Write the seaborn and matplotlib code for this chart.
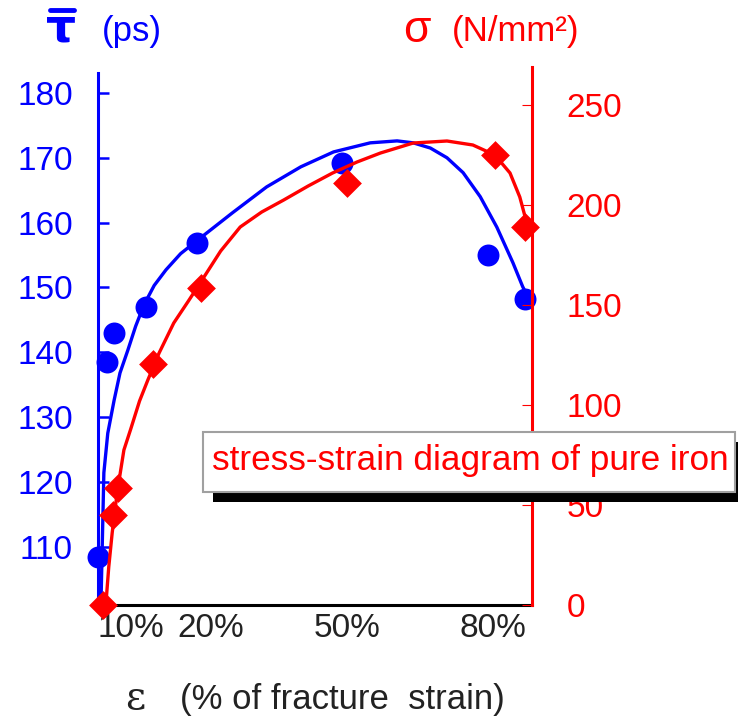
import matplotlib
matplotlib.use("Agg")
import matplotlib.pyplot as plt
import matplotlib.transforms as mtransforms
from matplotlib.patches import Rectangle
from matplotlib.lines import Line2D
import seaborn as sns

# measured points (strain in % of fracture strain)
strain_tau = [0, 1.8, 3.3, 9.8, 20.2, 50, 79.8, 87.3]
tau = [108.4, 138.5, 143.0, 147.0, 156.9, 169.2, 155.0, 148.2]

strain_sigma = [1.0, 3.1, 4.1, 11.2, 21.0, 51.0, 81.2, 87.3]
sigma = [0, 45, 58.5, 120.5, 158.5, 211, 225, 189]

# fitted curves
fit_tau_x = [0.6, 1.2, 2.0, 3.3, 4.5, 6.1, 7.7, 9.4, 11.5, 13.9, 16.9, 20.4, 27.5,
             34.5, 41.5, 48.2, 55.7, 61.2, 64.5, 68.0, 71.4, 74.7, 78.2, 81.6,
             84.9, 86.9, 87.8]
fit_tau_y = [101.0, 121.4, 127.5, 132.6, 136.8, 140.3, 144.0, 147.3, 150.3, 152.7,
             155.2, 157.3, 161.5, 165.5, 168.6, 170.9, 172.3, 172.6, 172.3, 171.5,
             170.0, 167.7, 164.0, 159.3, 153.8, 150.1, 148.8]

fit_sig_x = [1.6, 2.2, 2.9, 3.6, 4.1, 5.3, 6.7, 8.5, 10.2, 12.5, 15.5, 18.5, 20.9,
             25.1, 29.1, 33.5, 38.0, 43.0, 48.0, 53.0, 57.8, 64.5, 71.4, 76.7,
             81.2, 84.3, 86.3, 87.4, 87.6]
fit_sig_y = [0, 19, 36, 50, 59, 77.5, 88, 102, 112.5, 126, 141, 152, 161, 177, 189,
             196.5, 202.5, 209.5, 216, 221.5, 226, 231, 232, 230, 225, 216, 204,
             194, 189]

x_ticks = [10, 20, 50, 80]
x_ticklabels = ["10%", "20%", "50%", "80%"]
tau_ticks = [110, 120, 130, 140, 150, 160, 170, 180]
sigma_ticks = [0, 50, 100, 150, 200, 250]

BLUE = "#0000ff"
RED = "#ff0000"
DARK = "#222222"

sns.set_style("white")
plt.rcParams["font.family"] = ["Liberation Sans", "DejaVu Sans"]

W, H = 738, 718
fig = plt.figure(figsize=(W / 100, H / 100), dpi=100)
ax = fig.add_axes([98 / W, (H - 605) / H, (532 - 98) / W, (605 - 67) / H])
ax2 = ax.twinx()

# blue: positron lifetime
sns.lineplot(x=fit_tau_x, y=fit_tau_y, ax=ax, color=BLUE, lw=2.4, sort=False,
             estimator=None, zorder=3, solid_joinstyle="round")
sns.scatterplot(x=strain_tau, y=tau, ax=ax, color=BLUE, marker="o", s=250,
                linewidth=0, zorder=4, clip_on=False)

# red: stress
sns.lineplot(x=fit_sig_x, y=fit_sig_y, ax=ax2, color=RED, lw=2.4, sort=False,
             estimator=None, zorder=3, solid_joinstyle="round")
sns.scatterplot(x=strain_sigma, y=sigma, ax=ax2, color=RED, marker="D", s=215,
                linewidth=0, zorder=4, clip_on=False)

ax.set_xlim(0, 88.8)
ax.set_ylim(101.0, 184.0)
ax2.set_ylim(0, 269)

for a in (ax, ax2):
    for s in a.spines.values():
        s.set_visible(False)
    a.set_xlabel("")
    a.set_ylabel("")

ax.spines["left"].set_visible(True)
ax.spines["left"].set_color(BLUE)
ax.spines["left"].set_linewidth(2.2)
ax.spines["left"].set_bounds(101.0, 183.1)
ax.spines["bottom"].set_visible(True)
ax.spines["bottom"].set_color("black")
ax.spines["bottom"].set_linewidth(2.2)
ax2.spines["right"].set_visible(True)
ax2.spines["right"].set_color(RED)
ax2.spines["right"].set_linewidth(2.2)

ax.set_xticks(x_ticks)
ax.set_xticklabels(x_ticklabels)
ax.set_yticks(tau_ticks)
ax2.set_yticks(sigma_ticks)

ax.tick_params(axis="x", direction="in", length=8, width=1.8, color="black",
               labelcolor=DARK, labelsize=24, pad=6)
ax.tick_params(axis="y", direction="in", length=8, width=1.8, color=BLUE,
               labelcolor=BLUE, labelsize=24, pad=18, left=True)
ax2.tick_params(axis="y", direction="in", length=7, width=0.8, color=RED,
                labelcolor=RED, labelsize=24, pad=25, right=True)

# the x tick labels sit a little off their ticks in the original
for lbl, dx in zip(ax.get_xticklabels(), [-16, 15, 5, 4]):
    lbl.set_transform(lbl.get_transform() +
                      mtransforms.ScaledTranslation(dx / 100, 0, fig.dpi_scale_trans))

# axis titles
fig.text(61 / W, (H - 29) / H, "\u03c4", color=BLUE, fontsize=34,
         fontweight="bold", family="DejaVu Sans", ha="center", va="center")
fig.add_artist(Line2D([50 / W, 74 / W], [(H - 10) / H, (H - 10) / H],
                      transform=fig.transFigure, color=BLUE, lw=3.5))
fig.text(102 / W, (H - 32) / H, "(ps)", color=BLUE, fontsize=25,
         ha="left", va="center")
fig.text(417 / W, (H - 30) / H, "\u03c3", color=RED, fontsize=32,
         ha="center", va="center")
fig.text(452 / W, (H - 32) / H, "(N/mm\u00b2)", color=RED, fontsize=25,
         ha="left", va="center")
fig.text(135 / W, (H - 699) / H, "\u03b5", color=DARK, fontsize=28,
         family="DejaVu Serif", ha="center", va="center")
fig.text(180 / W, (H - 699) / H, "(% of fracture  strain)", color=DARK,
         fontsize=25, ha="left", va="center")

# caption box with a black drop shadow
fig.add_artist(Rectangle((213 / W, (H - 502) / H), 540 / W, 60 / H,
                         transform=fig.transFigure, facecolor="black",
                         edgecolor="none", zorder=10))
fig.add_artist(Rectangle((203 / W, (H - 492) / H), 532 / W, 60 / H,
                         transform=fig.transFigure, facecolor="white",
                         edgecolor="#a0a0a0", lw=1.5, zorder=11))
fig.text(212 / W, (H - 470) / H, "stress-strain diagram of pure iron", color=RED,
         fontsize=25.3, ha="left", va="baseline", zorder=12)

fig.savefig("out.png", dpi=100)
